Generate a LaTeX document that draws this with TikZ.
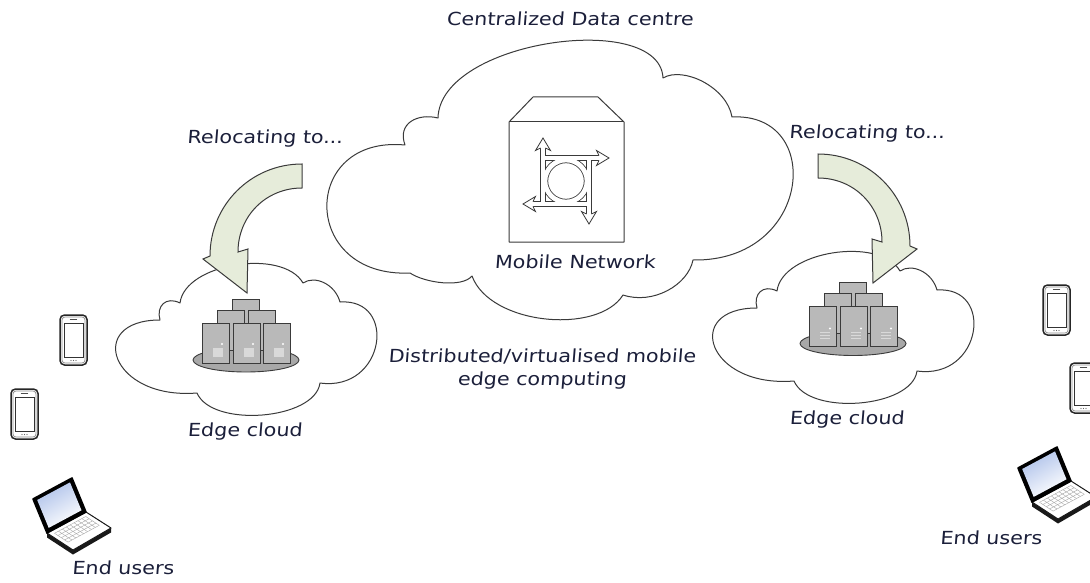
\documentclass[tikz,border=0pt]{standalone}
\usepackage{fontspec}
\setmainfont{DejaVu Sans}[FakeStretch=1.15,FakeSlant=0.08]
\usetikzlibrary{calc}

\definecolor{ink}{HTML}{1B1F3A}
\definecolor{outline}{HTML}{3A3A3A}
\definecolor{arrowfill}{HTML}{E6ECDA}
\definecolor{servergray}{HTML}{B9B9B9}
\definecolor{platter}{HTML}{A8A8A8}
\definecolor{srvlight}{HTML}{D9D9D9}
\definecolor{screenblue}{HTML}{AFC2EA}

% outline of a small edge cloud
\newcommand\edgecloudoutline{(160,320) .. controls (156,306) and (166,296) .. (180,303)
  .. controls (185,263) and (283,248) .. (303,283)
  .. controls (315,275) and (335,284) .. (340,302)
  .. controls (398,298) and (385,392) .. (320,383)
  .. controls (315,420) and (212,428) .. (197,393)
  .. controls (110,400) and (85,320) .. (160,320) -- cycle}

% curved "relocating" arrow
\newcommand\bendarrowoutline{(302,164) .. controls (251,164) and (210,205) .. (210,256)
  -- (203,259) -- (247,293) -- (248,249) -- (238,252)
  .. controls (238,216) and (266,188) .. (302,188) -- cycle}

% platter with five stacked servers
\newcommand\rackbase{%
  \draw[draw=outline, line width=0.9, fill=platter] (0,0) ellipse (53 and 12);
  \draw[srvbox] (-14,-61) rectangle (13,-21);
  \draw[srvbox] (-29,-50) rectangle (-2,-10);
  \draw[srvbox] (2,-50) rectangle (29,-10);
  \foreach \sx in {-44,-13,17} \draw[srvbox] (\sx,-37) rectangle ++(27,40);
}

\tikzset{
  cloudline/.style={draw=outline, line width=1, fill=white, line join=round},
  bendarrow/.style={draw=outline, line width=1, fill=arrowfill, line join=miter},
  srvbox/.style={draw=outline, line width=0.9, fill=servergray},
  iconline/.style={draw=outline, line width=1},
  lbl/.style={font=\fontsize{18}{23}\selectfont, text=ink, inner sep=0pt, anchor=base},
  rackplain/.pic={
    \rackbase
    \foreach \sx in {-44,-13,17} {
      \fill[srvlight] (\sx+11,-12) rectangle ++(10,9);
      \fill[white] (\sx+20,-16) circle (1.1);
    }
  },
  rackstriped/.pic={
    \rackbase
    \foreach \sx in {-44,-13,17} {
      \foreach \yy in {-11,-8,-5} \draw[srvlight, line width=1.2] (\sx+11,\yy) -- ++(10,0);
      \fill[white] (\sx+21,-15) circle (1.1);
    }
  },
  phone/.pic={
    \draw[black!85, line width=1.5, rounded corners=4.5, fill=white] (0,0) rectangle (27,50);
    \draw[black!45, line width=0.7, rounded corners=3] (2,2) rectangle (25,48);
    \draw[black!80, line width=0.7] (4,8) rectangle (23,42);
    \draw[black!70, line width=1.1, line cap=round] (10.5,4.6) -- (16.5,4.6);
    \foreach \dx in {11,13.5,16} \fill[black!60] (\dx,45.5) circle (0.55);
  },
  laptop/.pic={
    \fill[black!90] (14,34) -- (40,51) -- (78,29) -- (78,33.5) -- (40,55.5) -- (14,38.5) -- cycle;
    \draw[black!90, line width=1, fill=white, line join=round] (14,34) -- (53,13) -- (78,29) -- (40,51) -- cycle;
    \foreach \f in {0.14,0.27,0.40,0.53,0.66}
      \draw[black!35, line width=0.4] ($(14,34)+\f*(26,17)+0.1*(39,-21)$) -- ($(14,34)+\f*(26,17)+0.9*(39,-21)$);
    \foreach \g in {0.1,0.2,0.3,0.4,0.5,0.6,0.7,0.8,0.9}
      \draw[black!35, line width=0.4] ($(14,34)+\g*(39,-21)+0.14*(26,17)$) -- ($(14,34)+\g*(39,-21)+0.66*(26,17)$);
    \draw[black, line width=1.6, line join=round, fill=black] (0,0) -- (39,-21) -- (53,13) -- (14,34) -- cycle;
    \shade[top color=screenblue, bottom color=white, shading angle=30] (4.2,1) -- (37,-16.6) -- (48.5,11.3) -- (15.7,28.9) -- cycle;
  },
}

\begin{document}
\begin{tikzpicture}[x=1pt,y=-1pt]
\fill[white] (0,0) rectangle (1090,583);
\useasboundingbox (0,0) rectangle (1090,583);

% centralized data centre cloud
\draw[cloudline] (405,145) .. controls (397,123) and (418,113) .. (438,118)
  .. controls (440,40) and (660,10) .. (663,78)
  .. controls (683,66) and (727,87) .. (732,117)
  .. controls (825,112) and (812,262) .. (693,260)
  .. controls (688,285) and (653,305) .. (623,295)
  .. controls (598,335) and (490,325) .. (472,276)
  .. controls (462,288) and (425,283) .. (410,273)
  .. controls (300,278) and (300,135) .. (405,145) -- cycle;

% edge clouds
\draw[cloudline] \edgecloudoutline;
\begin{scope}[shift={(597,-12)}]
  \draw[cloudline] \edgecloudoutline;
\end{scope}

% server racks
\pic at (246,360) {rackplain};
\pic at (853,343.5) {rackstriped};

% relocation arrows
\draw[bendarrow] \bendarrowoutline;
\begin{scope}[shift={(1120,-10)}, xscale=-1]
  \draw[bendarrow] \bendarrowoutline;
\end{scope}

% mobile network box
\draw[iconline, fill=white, line join=round] (509,242) -- (509,122) -- (533,97) -- (598,97) -- (624,122) -- (624,242) -- cycle;
\draw[iconline] (509,122) -- (624,122);

% pinwheel symbol: outlined ring and four tangent arrows
\draw[outline, line width=6.3] (566,181) circle (21);
\foreach \r in {0,90,180,270}
  \draw[outline, line width=5.6, rotate around={\r:(566,181)}] (543,204) -- (543,148);
\draw[white, line width=4.7] (566,181) circle (21);
\foreach \r in {0,90,180,270}
  \draw[white, line width=4.0, rotate around={\r:(566,181)}] (543,204) -- (543,148);
\foreach \r in {0,90,180,270}
  \draw[outline, line width=0.8, fill=white, line join=miter, rotate around={\r:(566,181)}]
    (540.6,148) -- (535.5,150.5) -- (543,138) -- (550.5,150.5) -- (545.4,148);

% end user devices
\pic at (60,315) {phone};
\pic at (11,389) {phone};
\pic at (1043,285) {phone};
\pic at (1070,363) {phone};
\pic at (33,499) {laptop};
\pic at (1018,468) {laptop};

% labels
\node[lbl] (dc) at (570,26) {Centralized Data centre};
\node[lbl] (relL) at (265,144) {Relocating to...};
\node[lbl] (relR) at (867,139) {Relocating to...};
\node[lbl] (mn) at (575,268) {Mobile Network};
\node[lbl, align=center, anchor=center] (mec) at (542,369) {Distributed/virtualised mobile\\edge computing};
\node[lbl] (ecL) at (245,436) {Edge cloud};
\node[lbl] (ecR) at (847,424) {Edge cloud};
\node[lbl] (euL) at (123,574) {End users};
\node[lbl] (euR) at (991,544) {End users};
\end{tikzpicture}
\end{document}
